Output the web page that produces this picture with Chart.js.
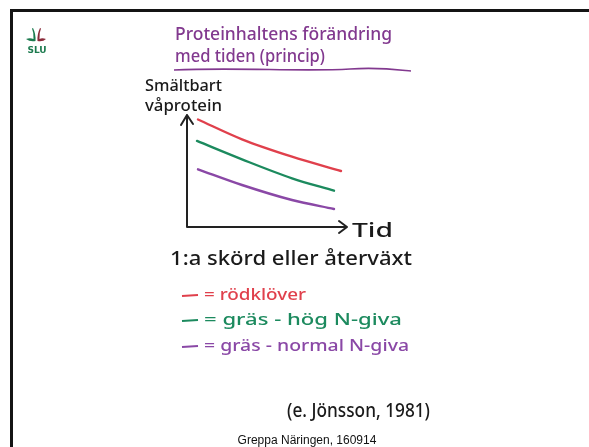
<!DOCTYPE html>
<html>
<head>
<meta charset="utf-8">
<script src="https://cdn.jsdelivr.net/npm/chart.js@4/dist/chart.umd.min.js"></script>
<style>
  html, body { margin: 0; padding: 0; background: #fff; }
  #wrap { position: relative; width: 589px; height: 447px; }
</style>
</head>
<body>
<div id="wrap"><canvas id="chart" width="589" height="447"></canvas></div>
<script>
// Values (time in arbitrary units, protein in arbitrary units)
const timeRed = [1.1, 5.5, 10.5, 15.4];
const timeGreen = [1.0, 5.5, 10.5, 14.7];
const timePurple = [1.1, 5.5, 10.5, 14.7];
const rodklover = [9.6, 7.83, 6.28, 5.0];
const grasHog = [7.68, 6.04, 4.35, 3.24];
const grasNormal = [5.15, 3.75, 2.41, 1.61];
const seriesLabels = ['= rödklöver', '= gräs - hög N-giva', '= gräs - normal N-giva'];
const seriesColors = ['#e0404c', '#1c8a5e', '#8a48a6'];

const HAND = '"Noto Sans", "DejaVu Sans", sans-serif';

function toPoints(xs, ys) {
    return xs.map((x, i) => ({ x: x, y: ys[i] }));
}

// Writes a text and stretches it to the given width
function handText(ctx, str, x, base, width, size, color) {
    ctx.save();
    ctx.font = '500 ' + size + 'px ' + HAND;
    ctx.fillStyle = color;
    ctx.textBaseline = 'alphabetic';
    let w = ctx.measureText(str).width;
    ctx.translate(x, base);
    ctx.scale(width / w, 1);
    ctx.fillText(str, 0, 0);
    ctx.restore();
}

const sketchPlugin = {
    id: 'sketch',
    beforeDraw(chart) {
        const ctx = chart.ctx;
        ctx.save();
        ctx.fillStyle = '#fff';
        ctx.fillRect(0, 0, chart.width, chart.height);
        // slide frame
        ctx.fillStyle = '#141414';
        ctx.fillRect(10, 9, chart.width - 10, 3);
        ctx.fillRect(10, 9, 3, chart.height - 9);
        // SLU logo
        ctx.fillStyle = '#1b7a4e';
        ctx.beginPath();
        ctx.moveTo(33, 28);
        ctx.quadraticCurveTo(36, 34, 35.5, 41);
        ctx.quadraticCurveTo(30, 42, 26, 39);
        ctx.quadraticCurveTo(30, 37.5, 33.5, 39);
        ctx.quadraticCurveTo(34, 33, 32, 28.5);
        ctx.fill();
        ctx.fillStyle = '#8a2a3a';
        ctx.beginPath();
        ctx.moveTo(40, 28);
        ctx.quadraticCurveTo(37, 34, 37.5, 41);
        ctx.quadraticCurveTo(43, 42, 46, 39);
        ctx.quadraticCurveTo(42, 37.5, 39.5, 39);
        ctx.quadraticCurveTo(39, 33, 41, 28.5);
        ctx.fill();
        ctx.fillStyle = '#1b7a4e';
        ctx.font = 'bold 9px "DejaVu Sans", sans-serif';
        ctx.textAlign = 'center';
        ctx.fillText('SLU', 37, 53);
        ctx.restore();

        // title, underline and axis texts
        handText(ctx, 'Proteinhaltens förändring', 175, 40, 217, 18, '#82398f');
        handText(ctx, 'med tiden (princip)', 175, 62, 150, 18, '#82398f');
        ctx.save();
        ctx.strokeStyle = '#82398f';
        ctx.lineWidth = 1.6;
        ctx.beginPath();
        ctx.moveTo(174, 70);
        ctx.bezierCurveTo(240, 67, 300, 72, 350, 69);
        ctx.bezierCurveTo(380, 67, 400, 70, 411, 71);
        ctx.stroke();
        ctx.restore();
        handText(ctx, 'Smältbart', 145, 91, 77, 16, '#1a1a1a');
        handText(ctx, 'våprotein', 145, 111, 77, 16, '#1a1a1a');
        handText(ctx, 'Tid', 352, 237, 41, 20, '#1a1a1a');
        handText(ctx, '1:a skörd eller återväxt', 170, 265, 242, 20, '#1a1a1a');
        handText(ctx, '(e. Jönsson, 1981)', 287, 417, 143, 20, '#1a1a1a');

        // legend drawn from the datasets
        const legBase = [300, 325, 351];
        const legWidth = [102, 198, 205];
        chart.data.datasets.forEach((ds, i) => {
            ctx.save();
            ctx.strokeStyle = ds.borderColor;
            ctx.lineWidth = 2.2;
            ctx.beginPath();
            ctx.moveTo(182, legBase[i] - 4);
            ctx.lineTo(198, legBase[i] - 5);
            ctx.stroke();
            ctx.restore();
            handText(ctx, ds.label, 204, legBase[i], legWidth[i], 17, ds.borderColor);
        });

        ctx.save();
        ctx.fillStyle = '#111';
        ctx.font = '12px "Liberation Sans", Arial, sans-serif';
        ctx.textAlign = 'center';
        ctx.fillText('Greppa Näringen, 160914', 307, 444);
        ctx.restore();
    },
    afterDraw(chart) {
        // hand drawn axes with arrows
        const ctx = chart.ctx;
        const x0 = chart.scales.x.getPixelForValue(0);
        const xEnd = chart.scales.x.getPixelForValue(chart.scales.x.max);
        const y0 = chart.scales.y.getPixelForValue(0);
        const yEnd = chart.scales.y.getPixelForValue(chart.scales.y.max);
        ctx.save();
        ctx.strokeStyle = '#222';
        ctx.lineWidth = 2;
        ctx.lineCap = 'round';
        ctx.lineJoin = 'round';
        ctx.beginPath();
        ctx.moveTo(x0, yEnd);
        ctx.lineTo(x0, y0);
        ctx.lineTo(xEnd, y0);
        ctx.moveTo(x0 - 6, yEnd + 10);
        ctx.lineTo(x0, yEnd);
        ctx.lineTo(x0 + 6, yEnd + 9);
        ctx.moveTo(xEnd - 8, y0 - 6);
        ctx.lineTo(xEnd, y0);
        ctx.lineTo(xEnd - 8, y0 + 6);
        ctx.stroke();
        ctx.restore();
    }
};

new Chart(document.getElementById('chart'), {
    type: 'line',
    data: {
        datasets: [
            { label: seriesLabels[0], data: toPoints(timeRed, rodklover), borderColor: seriesColors[0] },
            { label: seriesLabels[1], data: toPoints(timeGreen, grasHog), borderColor: seriesColors[1] },
            { label: seriesLabels[2], data: toPoints(timePurple, grasNormal), borderColor: seriesColors[2] }
        ]
    },
    options: {
        responsive: false,
        animation: false,
        layout: { padding: { left: 187, right: 242, top: 115, bottom: 220 } },
        elements: {
            point: { radius: 0 },
            line: { borderWidth: 2.4, cubicInterpolationMode: 'monotone', borderCapStyle: 'round' }
        },
        scales: {
            x: { type: 'linear', min: 0, max: 16, display: false },
            y: { min: 0, max: 10, display: false }
        },
        plugins: {
            legend: { display: false },
            tooltip: { enabled: false }
        }
    },
    plugins: [sketchPlugin]
});
</script>
</body>
</html>
